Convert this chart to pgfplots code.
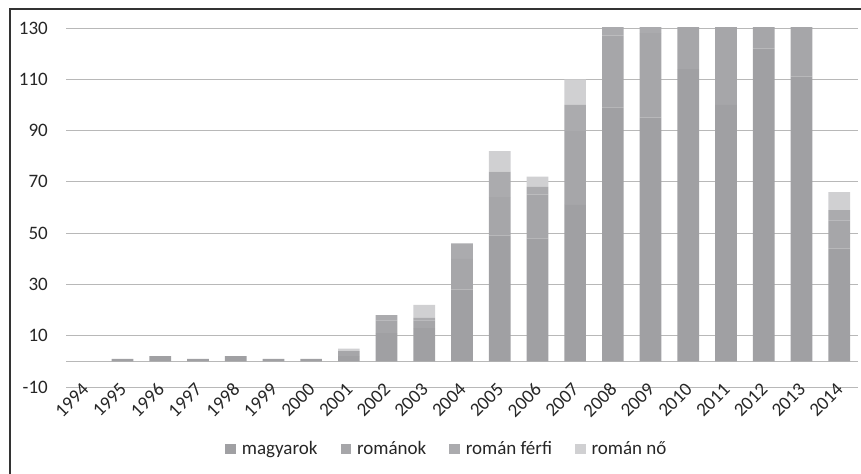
\documentclass[border=0pt]{standalone}
\usepackage{fontspec}
\setmainfont{Carlito}
\usepackage{pgfplots}
\pgfplotsset{compat=1.18}
\usepackage{pgfplotstable}

\definecolor{cMag}{HTML}{A0A0A3}
\definecolor{cRom}{HTML}{A6A6A9}
\definecolor{cFer}{HTML}{ABABAE}
\definecolor{cNo}{HTML}{D0D0D2}
\definecolor{cTxt}{HTML}{262626}

\pgfplotsset{sqlegend/.style={legend image code/.code={\fill[##1] (0bp,-5.25bp) rectangle (10.5bp,5.25bp);}}}

\pgfplotstableread{
x mag rom fer no
0 0 0 0 0
1 1 0 0 0
2 2 0 0 0
3 1 0 0 0
4 2 0 0 0
5 1 0 0 0
6 1 0 0 0
7 2 2 0 1
8 11 5 2 0
9 13 3 1 5
10 28 12 6 0
11 49 15 10 8
12 48 17 3 4
13 61 29 10 10
14 99 28 8 5
15 95 33 7 5
16 114 24 6 4
17 100 38 6 4
18 122 20 5 3
19 111 30 6 4
20 44 11 4 7
}\datatable

\begin{document}
\begin{tikzpicture}
\useasboundingbox (0bp,0bp) rectangle (861bp,474bp);
\draw[black!80, line width=1.1bp] (10bp,0bp) -- (10bp,465bp) -- (861bp,465bp);
\begin{axis}[
  at={(66bp,87bp)}, anchor=south west,
  scale only axis, width=792bp, height=359bp,
  xmin=-0.5, xmax=20.5, ymin=-10, ymax=130,
  ybar stacked, bar width=21.7bp,
  axis line style={draw=none},
  major tick length=0pt,
  ytick={-10,10,30,50,70,90,110,130},
  yticklabels={-10,10,30,50,70,90,110,130},
  ymajorgrids,
  major grid style={color=black!28, line width=0.9bp},
  extra y ticks={0}, extra y tick labels={},
  extra y tick style={grid style={color=black!20, line width=2.2bp}},
  xtick={0,1,2,3,4,5,6,7,8,9,10,11,12,13,14,15,16,17,18,19,20},
  xticklabels={1994,1995,1996,1997,1998,1999,2000,2001,2002,2003,2004,2005,2006,2007,2008,2009,2010,2011,2012,2013,2014},
  tick label style={font=\fontsize{19bp}{22bp}\selectfont, text=cTxt},
  yticklabel style={anchor=east, inner sep=0pt, xshift=-18bp},
  xticklabel style={rotate=45, anchor=east, inner sep=0pt, xshift=1bp},
  legend style={at={(0.481,-0.173)}, anchor=center, draw=none, fill=none,
    font=\fontsize{19bp}{22bp}\selectfont, text=cTxt,
    legend columns=-1,
    /tikz/every odd column/.append style={column sep=4bp},
    /tikz/every even column/.append style={column sep=21bp}},
]
\addplot[fill=cMag, draw=none, sqlegend] table[x=x,y=mag]{\datatable};
\addlegendentry{magyarok}
\addplot[fill=cRom, draw=none, sqlegend] table[x=x,y=rom]{\datatable};
\addlegendentry{románok}
\addplot[fill=cFer, draw=none, sqlegend] table[x=x,y=fer]{\datatable};
\addlegendentry{román férfi}
\addplot[fill=cNo, draw=none, sqlegend] table[x=x,y=no]{\datatable};
\addlegendentry{román nő}
\end{axis}
\end{tikzpicture}
\end{document}
